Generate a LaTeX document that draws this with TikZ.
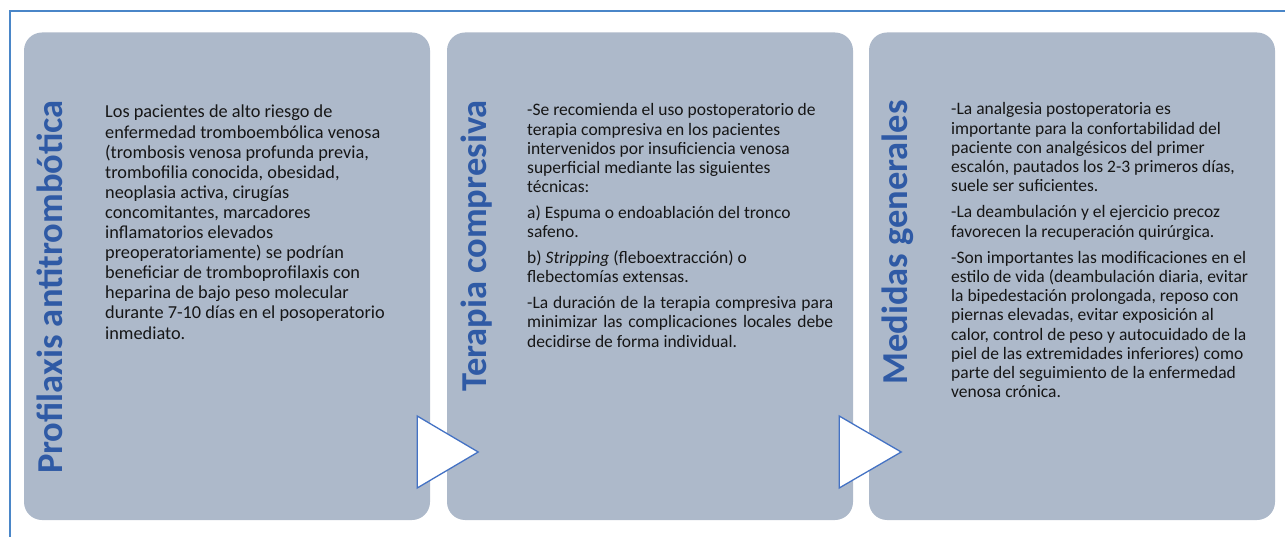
\documentclass[tikz,border=0pt]{standalone}
\usepackage{fontspec}
\setmainfont{Carlito}
\newfontfamily\titlefont{Carlito Bold}
\usetikzlibrary{calc}
\definecolor{boxfill}{HTML}{ADB9CA}
\definecolor{frameblue}{HTML}{4A86C8}
\definecolor{titleblue}{HTML}{2F5AA5}
\definecolor{triblue}{HTML}{4472C4}
\definecolor{bodytext}{HTML}{161616}
\begin{document}
\begin{tikzpicture}[x=1pt,y=-1pt,
  stagebox/.style={draw=none, fill=boxfill, rounded corners=18pt, minimum width=406pt, minimum height=487.5pt, inner sep=0pt},
  stagetitle/.style={rotate=90, anchor=base east, inner sep=0pt, text=titleblue, font=\titlefont\fontsize{36.5}{40}\selectfont},
  stagetext/.style={anchor=base west, inner sep=0pt, text=bodytext},
  flowarrow/.style={draw=triblue, fill=white, line width=1.3pt, line join=miter}]
\path[use as bounding box] (0,0) rectangle (1285,537);
\clip (0,0) rectangle (1285,537);
\draw[frameblue, line width=2.4pt] (10,11) rectangle (1320,580);
% boxes
\node[stagebox] (b1) at (227,276.25) {};
\node[stagebox] (b2) at (650,276.25) {};
\node[stagebox] (b3) at (1072,276.25) {};
% arrows
\draw[flowarrow] ($(b1.east)+(-13,139.75)$) -- ($(b1.east)+(48,175.75)$) -- ($(b1.east)+(-13,211.75)$) -- cycle;
\draw[flowarrow] ($(b2.east)+(-14,139.75)$) -- ($(b2.east)+(48,175.75)$) -- ($(b2.east)+(-14,211.75)$) -- cycle;
% titles
\node[stagetitle] (h1) at (62.5,100) {Profilaxis antitrombótica};
\node[stagetitle] (h2) at (486,100) {Terapia compresiva};
\node[stagetitle] (h3) at (907.5,100) {Medidas generales};
% texts
\node[stagetext] (t1) at (105,118) {\parbox[t]{300pt}{\fontsize{18.3}{20.1}\selectfont\raggedright\parindent=0pt
Los pacientes de alto riesgo de\\
enfermedad tromboembólica venosa\\
(trombosis venosa profunda previa,\\
trombofilia conocida, obesidad,\\
neoplasia activa, cirugías\\
concomitantes, marcadores\\
inflamatorios elevados\\
preoperatoriamente) se podrían\\
beneficiar de tromboprofilaxis con\\
heparina de bajo peso molecular\\
durante 7-10 días en el posoperatorio\\
inmediato.}};
\node[stagetext] (t2) at (527,116) {\parbox[t]{306pt}{\fontsize{17.5}{19.1}\selectfont\raggedright\parindent=0pt\parskip=7pt
-Se recomienda el uso postoperatorio de\\
terapia compresiva en los pacientes\\
intervenidos por insuficiencia venosa\\
superficial mediante las siguientes\\
técnicas:\par
a) Espuma o endoablación del tronco\\
safeno.\par
b) \textit{Stripping} (fleboextracción) o\\
flebectomías extensas.\par
\makebox[\linewidth][s]{-La duración de la terapia compresiva para}\\
\makebox[\linewidth][s]{minimizar las complicaciones locales debe}\\
decidirse de forma individual.}};
\node[stagetext] (t3) at (951,115) {\parbox[t]{305pt}{\fontsize{17.5}{19.1}\selectfont\raggedright\parindent=0pt\parskip=7.5pt
-La analgesia postoperatoria es\\
importante para la confortabilidad del\\
paciente con analgésicos del primer\\
escalón, pautados los 2-3 primeros días,\\
suele ser suficientes.\par
-La deambulación y el ejercicio precoz\\
favorecen la recuperación quirúrgica.\par
-Son importantes las modificaciones en el\\
estilo de vida (deambulación diaria, evitar\\
la bipedestación prolongada, reposo con\\
piernas elevadas, evitar exposición al\\
calor, control de peso y autocuidado de la\\
piel de las extremidades inferiores) como\\
parte del seguimiento de la enfermedad\\
venosa crónica.}};
\end{tikzpicture}
\end{document}
